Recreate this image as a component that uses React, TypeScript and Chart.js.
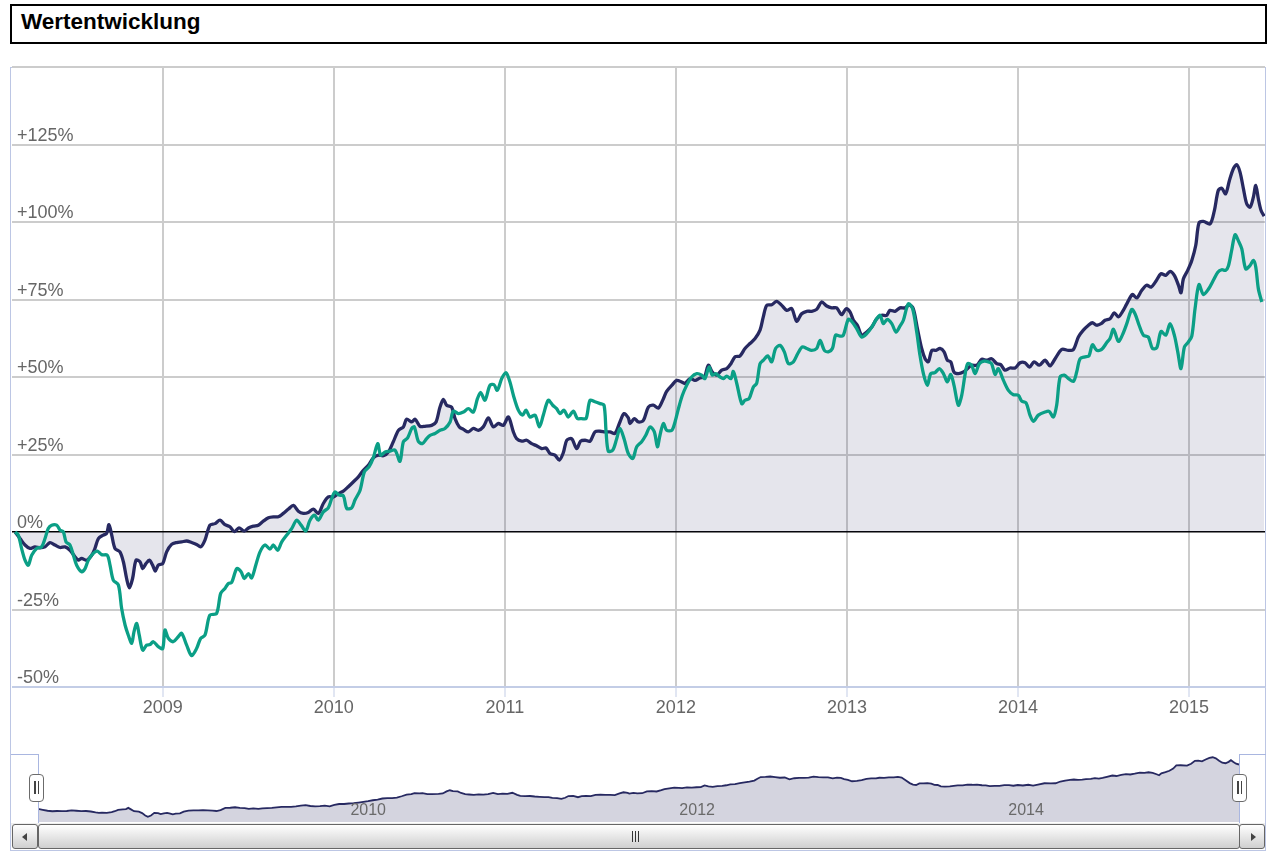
import React, { useEffect, useRef } from 'react';
import { Chart, registerables } from 'chart.js';

Chart.register(...registerables);

// ---- data (x = decimal year, y = performance in %) ----
const fondsSeries: [number, number][] = [
  [2008.137, 0], [2008.166, -2.1], [2008.195, -4.2], [2008.224, -5.3], [2008.253, -4.8], [2008.283, -5.1], [2008.312, -4.8], [2008.341, -3.4], [2008.37, -4.2], [2008.4, -5.0],
  [2008.429, -4.8], [2008.458, -5.9], [2008.487, -8.0], [2008.507, -9.1], [2008.526, -8.5], [2008.555, -9.1], [2008.585, -7.5], [2008.604, -5.3], [2008.624, -2.1], [2008.653, -1.0],
  [2008.672, -0.5], [2008.686, 2.4], [2008.702, -1.0], [2008.721, -5.3], [2008.75, -6.4], [2008.77, -9.6], [2008.789, -15.0], [2008.805, -18.0], [2008.824, -15.0], [2008.844, -9.1],
  [2008.867, -9.6], [2008.883, -11.8], [2008.902, -10.2], [2008.922, -9.1], [2008.941, -10.7], [2008.957, -12.6], [2008.974, -10.7], [2009.0, -10.2], [2009.023, -6.4], [2009.052, -4.0],
  [2009.082, -3.4], [2009.111, -3.2], [2009.14, -2.9], [2009.169, -3.4], [2009.198, -4.0], [2009.222, -4.8], [2009.247, -2.6], [2009.276, 2.2], [2009.306, 2.7], [2009.335, 3.8],
  [2009.364, 2.4], [2009.393, 1.7], [2009.419, 0.1], [2009.446, 1.3], [2009.477, 0.3], [2009.501, 1.3], [2009.53, 1.9], [2009.559, 2.2], [2009.588, 3.5], [2009.618, 4.6],
  [2009.647, 4.9], [2009.676, 4.9], [2009.705, 6.0], [2009.735, 7.4], [2009.764, 8.6], [2009.793, 6.7], [2009.822, 6.0], [2009.851, 6.3], [2009.881, 7.4], [2009.91, 6.0],
  [2009.939, 9.2], [2009.968, 11.3], [2009.998, 11.3], [2010.027, 12.4], [2010.056, 13.2], [2010.085, 14.6], [2010.115, 16.2], [2010.144, 17.8], [2010.173, 19.9], [2010.202, 21.5],
  [2010.231, 23.9], [2010.261, 24.8], [2010.29, 24.6], [2010.319, 25.8], [2010.348, 29.1], [2010.378, 32.8], [2010.407, 33.9], [2010.426, 36.4], [2010.456, 35.5], [2010.475, 36.4],
  [2010.504, 34.1], [2010.533, 34.1], [2010.572, 34.4], [2010.598, 35.5], [2010.621, 40.3], [2010.641, 42.8], [2010.66, 40.9], [2010.689, 40.3], [2010.709, 36.6], [2010.734, 33.9],
  [2010.758, 33.1], [2010.787, 32.3], [2010.816, 33.4], [2010.845, 32.8], [2010.874, 33.9], [2010.904, 36.8], [2010.933, 33.9], [2010.962, 35.0], [2010.991, 34.4], [2011.021, 37.1],
  [2011.05, 32.3], [2011.069, 30.1], [2011.099, 29.3], [2011.128, 29.6], [2011.157, 28.5], [2011.186, 27.8], [2011.216, 26.9], [2011.241, 27.1], [2011.264, 25.3], [2011.293, 24.8],
  [2011.319, 23.2], [2011.342, 25.6], [2011.362, 29.6], [2011.391, 30.1], [2011.42, 26.9], [2011.443, 29.3], [2011.469, 29.6], [2011.498, 29.3], [2011.527, 32.3], [2011.557, 32.5],
  [2011.586, 32.3], [2011.615, 32.3], [2011.644, 31.8], [2011.673, 35.5], [2011.697, 38.2], [2011.722, 36.8], [2011.732, 35.0], [2011.757, 36.6], [2011.781, 35.5], [2011.81, 36.0],
  [2011.839, 40.3], [2011.868, 40.9], [2011.898, 40.0], [2011.927, 43.0], [2011.946, 45.4], [2011.976, 47.3], [2012.005, 48.9], [2012.034, 48.4], [2012.053, 47.9], [2012.083, 49.5],
  [2012.112, 48.9], [2012.141, 49.7], [2012.167, 50.0], [2012.19, 53.8], [2012.213, 51.6], [2012.239, 50.6], [2012.268, 52.2], [2012.297, 52.7], [2012.322, 54.3], [2012.346, 56.5],
  [2012.375, 56.8], [2012.404, 59.2], [2012.433, 60.8], [2012.463, 62.4], [2012.492, 65.1], [2012.511, 69.4], [2012.531, 73.1], [2012.56, 73.3], [2012.589, 74.4], [2012.619, 73.1],
  [2012.648, 71.5], [2012.677, 72.1], [2012.706, 68.0], [2012.735, 70.4], [2012.765, 71.2], [2012.794, 71.2], [2012.823, 71.8], [2012.852, 74.2], [2012.882, 72.9], [2012.911, 72.3],
  [2012.94, 72.3], [2012.969, 70.1], [2012.995, 72.0], [2013.018, 71.0], [2013.038, 68.3], [2013.061, 66.7], [2013.086, 63.5], [2013.116, 64.5], [2013.145, 66.1], [2013.174, 68.8],
  [2013.203, 69.9], [2013.232, 69.9], [2013.252, 71.5], [2013.281, 71.2], [2013.31, 72.3], [2013.34, 72.3], [2013.365, 73.3], [2013.388, 72.0], [2013.412, 65.6], [2013.437, 59.2],
  [2013.457, 55.9], [2013.476, 54.9], [2013.496, 58.6], [2013.521, 58.6], [2013.544, 59.2], [2013.568, 58.1], [2013.587, 55.4], [2013.607, 54.9], [2013.626, 51.6], [2013.651, 51.1],
  [2013.681, 51.6], [2013.704, 52.7], [2013.729, 53.8], [2013.759, 53.8], [2013.788, 55.7], [2013.817, 55.4], [2013.846, 55.9], [2013.876, 54.3], [2013.899, 54.0], [2013.924, 52.2],
  [2013.953, 52.9], [2013.983, 52.9], [2014.012, 54.6], [2014.041, 54.6], [2014.067, 53.2], [2014.094, 54.9], [2014.125, 53.8], [2014.158, 55.4], [2014.187, 53.6], [2014.217, 55.9],
  [2014.256, 58.9], [2014.295, 58.6], [2014.324, 58.9], [2014.353, 62.9], [2014.382, 65.1], [2014.412, 66.7], [2014.435, 67.5], [2014.46, 66.7], [2014.486, 67.2], [2014.509, 68.3],
  [2014.538, 68.8], [2014.563, 70.7], [2014.587, 69.4], [2014.61, 71.0], [2014.636, 73.6], [2014.669, 76.6], [2014.694, 75.5], [2014.723, 77.9], [2014.752, 79.6], [2014.778, 79.0],
  [2014.805, 80.8], [2014.836, 83.3], [2014.864, 82.8], [2014.889, 84.1], [2014.914, 82.8], [2014.938, 79.6], [2014.953, 77.2], [2014.967, 81.7], [2014.992, 84.4], [2015.016, 87.6],
  [2015.039, 92.4], [2015.058, 99.7], [2015.084, 100.2], [2015.123, 99.4], [2015.148, 103.7], [2015.171, 110.2], [2015.191, 110.9], [2015.214, 109.1], [2015.236, 113.4], [2015.259, 117.2],
  [2015.279, 118.5], [2015.298, 116.1], [2015.318, 110.7], [2015.337, 105.9], [2015.357, 104.8], [2015.376, 108.0], [2015.39, 111.8], [2015.405, 107.5], [2015.421, 103.7], [2015.439, 101.9],
];

const vergleichSeries: [number, number][] = [
  [2008.137, 0], [2008.156, -1.0], [2008.175, -5.3], [2008.195, -9.1], [2008.214, -10.7], [2008.234, -7.5], [2008.263, -5.3], [2008.292, -4.8], [2008.312, -2.1], [2008.331, 1.1],
  [2008.351, 2.2], [2008.38, 2.2], [2008.4, 0.6], [2008.419, 0.1], [2008.435, -3.2], [2008.458, -4.2], [2008.478, -7.5], [2008.497, -10.7], [2008.526, -12.8], [2008.546, -11.8],
  [2008.565, -9.1], [2008.594, -6.9], [2008.618, -6.2], [2008.643, -7.3], [2008.676, -7.5], [2008.692, -10.7], [2008.711, -15.5], [2008.741, -17.1], [2008.76, -24.7], [2008.78, -30.0],
  [2008.799, -33.3], [2008.819, -35.9], [2008.832, -32.2], [2008.848, -29.5], [2008.863, -33.3], [2008.883, -38.1], [2008.906, -36.5], [2008.926, -36.3], [2008.945, -35.4], [2008.974, -37.0],
  [2009.0, -37.6], [2009.013, -31.6], [2009.033, -34.3], [2009.062, -35.4], [2009.091, -33.8], [2009.111, -32.7], [2009.14, -36.5], [2009.169, -39.9], [2009.198, -37.6], [2009.222, -34.3],
  [2009.247, -33.3], [2009.276, -26.8], [2009.315, -26.3], [2009.339, -19.8], [2009.364, -18.2], [2009.384, -16.6], [2009.403, -16.3], [2009.433, -11.8], [2009.458, -12.8], [2009.477, -15.0],
  [2009.501, -13.4], [2009.52, -14.8], [2009.544, -10.7], [2009.569, -6.4], [2009.598, -4.2], [2009.627, -5.5], [2009.647, -4.2], [2009.672, -5.9], [2009.696, -3.2], [2009.725, -1.0],
  [2009.754, 1.1], [2009.783, 3.8], [2009.809, 2.2], [2009.836, 0.3], [2009.861, 3.8], [2009.887, 5.4], [2009.91, 3.8], [2009.939, 6.5], [2009.968, 7.8], [2009.988, 10.8],
  [2010.007, 12.9], [2010.031, 11.9], [2010.056, 11.7], [2010.076, 7.6], [2010.105, 7.8], [2010.124, 10.3], [2010.154, 13.5], [2010.179, 19.4], [2010.206, 21.0], [2010.231, 23.9],
  [2010.257, 28.5], [2010.274, 24.8], [2010.3, 25.8], [2010.329, 26.1], [2010.358, 26.4], [2010.387, 22.8], [2010.407, 29.1], [2010.432, 30.4], [2010.456, 33.4], [2010.471, 33.9],
  [2010.494, 29.3], [2010.518, 28.5], [2010.543, 30.1], [2010.563, 31.2], [2010.592, 31.8], [2010.621, 32.8], [2010.65, 33.4], [2010.68, 35.5], [2010.699, 39.0], [2010.728, 38.2],
  [2010.758, 38.7], [2010.787, 39.8], [2010.816, 38.7], [2010.84, 43.0], [2010.859, 45.0], [2010.884, 42.5], [2010.913, 47.3], [2010.937, 47.5], [2010.956, 45.7], [2010.982, 49.5],
  [2011.007, 51.4], [2011.03, 48.4], [2011.05, 44.1], [2011.079, 39.3], [2011.104, 37.7], [2011.124, 39.3], [2011.147, 37.1], [2011.177, 37.7], [2011.202, 33.9], [2011.225, 37.7],
  [2011.254, 42.5], [2011.28, 40.9], [2011.303, 39.8], [2011.323, 38.2], [2011.346, 39.3], [2011.371, 37.1], [2011.401, 39.0], [2011.424, 36.6], [2011.449, 36.6], [2011.475, 36.6],
  [2011.498, 42.5], [2011.527, 42.0], [2011.557, 41.4], [2011.58, 40.9], [2011.592, 32.3], [2011.605, 26.1], [2011.631, 26.4], [2011.654, 30.1], [2011.673, 33.4], [2011.697, 30.1],
  [2011.722, 25.3], [2011.748, 23.7], [2011.771, 27.5], [2011.8, 29.1], [2011.824, 31.2], [2011.849, 33.9], [2011.874, 32.3], [2011.892, 27.5], [2011.907, 31.2], [2011.927, 35.0],
  [2011.946, 32.8], [2011.976, 32.8], [2011.995, 35.5], [2012.015, 39.8], [2012.038, 44.1], [2012.063, 47.3], [2012.092, 50.0], [2012.122, 51.1], [2012.151, 50.6], [2012.17, 49.5],
  [2012.194, 53.2], [2012.213, 50.6], [2012.233, 51.1], [2012.258, 50.0], [2012.278, 49.5], [2012.297, 50.3], [2012.322, 49.5], [2012.336, 51.8], [2012.356, 47.9], [2012.385, 41.4],
  [2012.404, 42.5], [2012.428, 43.0], [2012.453, 46.8], [2012.472, 47.9], [2012.492, 54.3], [2012.511, 55.4], [2012.537, 56.8], [2012.56, 54.9], [2012.583, 59.2], [2012.609, 60.2],
  [2012.634, 58.1], [2012.658, 54.3], [2012.687, 54.9], [2012.712, 57.5], [2012.739, 59.7], [2012.765, 59.2], [2012.794, 58.6], [2012.823, 59.2], [2012.843, 61.8], [2012.868, 58.6],
  [2012.891, 58.1], [2012.915, 59.2], [2012.934, 63.5], [2012.959, 63.2], [2012.979, 63.5], [2013.008, 68.6], [2013.028, 67.9], [2013.057, 65.6], [2013.086, 62.9], [2013.116, 64.0],
  [2013.145, 66.1], [2013.174, 68.8], [2013.194, 69.9], [2013.213, 67.2], [2013.236, 68.6], [2013.262, 67.2], [2013.287, 64.5], [2013.31, 66.4], [2013.33, 68.3], [2013.359, 73.6],
  [2013.384, 72.0], [2013.408, 64.5], [2013.427, 57.0], [2013.447, 51.1], [2013.47, 47.3], [2013.49, 51.1], [2013.515, 51.4], [2013.54, 52.7], [2013.564, 51.1], [2013.587, 48.4],
  [2013.607, 50.8], [2013.626, 47.3], [2013.651, 40.9], [2013.671, 44.1], [2013.69, 50.6], [2013.706, 54.3], [2013.729, 53.8], [2013.749, 51.1], [2013.774, 54.3], [2013.801, 55.1],
  [2013.827, 54.9], [2013.846, 54.3], [2013.866, 50.8], [2013.885, 52.7], [2013.915, 48.9], [2013.944, 45.7], [2013.973, 44.3], [2014.002, 44.1], [2014.022, 42.2], [2014.047, 41.7],
  [2014.07, 37.7], [2014.09, 35.7], [2014.119, 37.7], [2014.158, 38.7], [2014.182, 38.9], [2014.207, 37.1], [2014.226, 40.9], [2014.246, 50.0], [2014.271, 50.6], [2014.295, 49.5],
  [2014.324, 48.6], [2014.343, 51.6], [2014.363, 55.9], [2014.392, 56.5], [2014.415, 56.8], [2014.435, 60.4], [2014.46, 58.6], [2014.489, 58.9], [2014.519, 61.1], [2014.538, 62.4],
  [2014.558, 65.4], [2014.587, 61.5], [2014.61, 63.5], [2014.636, 67.2], [2014.665, 71.8], [2014.684, 70.4], [2014.708, 66.7], [2014.733, 63.5], [2014.762, 62.9], [2014.786, 59.2],
  [2014.811, 59.4], [2014.836, 64.7], [2014.864, 63.5], [2014.889, 67.2], [2014.914, 63.5], [2014.934, 58.1], [2014.953, 52.7], [2014.973, 59.7], [2014.996, 61.3], [2015.016, 63.2],
  [2015.035, 72.0], [2015.058, 79.8], [2015.084, 76.6], [2015.113, 78.3], [2015.142, 81.2], [2015.168, 83.8], [2015.191, 84.6], [2015.214, 84.4], [2015.23, 85.8], [2015.249, 90.8],
  [2015.269, 95.9], [2015.288, 94.0], [2015.308, 91.4], [2015.331, 84.9], [2015.357, 86.0], [2015.376, 87.6], [2015.39, 85.5], [2015.405, 78.5], [2015.425, 74.2],
];

const yearTicks = [2009, 2010, 2011, 2012, 2013, 2014, 2015];
const navigatorYearTicks = [2010, 2012, 2014];
const percentTicks = [-50, -25, 0, 25, 50, 75, 100, 125, 150];
const titleText = 'Wertentwicklung';

const X_MIN = 2008.119;
const X_MAX = 2015.444;

const NAVY = '#272961';
const TEAL = '#0b9f86';
const FONT = '"Liberation Sans", Arial, Helvetica, sans-serif';
const FRAME = '#bcc6e4';

const toPoints = (s: [number, number][]) => s.map(([x, y]) => ({ x, y }));

const navigatorLabels = {
  id: 'navigatorLabels',
  afterDatasetsDraw(chart: any) {
    const { ctx, scales } = chart;
    const x = scales.x;
    ctx.save();
    ctx.font = `16px ${FONT}`;
    ctx.fillStyle = '#6a6a6a';
    ctx.textAlign = 'left';
    ctx.textBaseline = 'middle';
    navigatorYearTicks.forEach((v) => ctx.fillText(String(v), x.getPixelForValue(v) + 6, 71));
    ctx.restore();
  },
};

export default function App() {
  const mainRef = useRef<HTMLCanvasElement | null>(null);
  const navRef = useRef<HTMLCanvasElement | null>(null);

  useEffect(() => {
    if (!mainRef.current || !navRef.current) return;
    const main = new Chart(mainRef.current, {
      type: 'line',
      data: {
        datasets: [
          {
            label: 'Vergleich',
            data: toPoints(vergleichSeries),
            borderColor: TEAL,
            borderWidth: 3.3,
            pointRadius: 0,
            fill: false,
            tension: 0.3,
            order: 0,
          },
          {
            label: 'Fonds',
            data: toPoints(fondsSeries),
            borderColor: NAVY,
            borderWidth: 3.3,
            pointRadius: 0,
            fill: 'origin',
            backgroundColor: 'rgba(39,41,97,0.12)',
            tension: 0.3,
            order: 1,
          },
        ],
      },
      options: {
        animation: false,
        responsive: false,
        maintainAspectRatio: false,
        events: [],
        layout: { padding: { left: 12, right: 2, top: 67, bottom: 0 } },
        plugins: { legend: { display: false }, tooltip: { enabled: false } },
        scales: {
          x: {
            type: 'linear',
            min: X_MIN,
            max: X_MAX,
            afterBuildTicks: (s: any) => {
              s.ticks = yearTicks.map((v) => ({ value: v }));
            },
            afterFit: (s: any) => {
              s.height = 53;
            },
            grid: { color: '#cccccc', lineWidth: 2, tickLength: 10, tickColor: '#c3cde6', tickWidth: 1 },
            border: { color: '#c3cde6', width: 1 },
            ticks: {
              autoSkip: false,
              maxRotation: 0,
              padding: 0,
              color: '#666',
              font: { size: 18, family: FONT },
              callback: (v: any) => String(v),
            },
          },
          y: {
            type: 'linear',
            min: -50,
            max: 150,
            afterBuildTicks: (s: any) => {
              s.ticks = percentTicks.map((v) => ({ value: v }));
            },
            afterFit: (s: any) => {
              s.width = 0;
            },
            grid: {
              drawTicks: false,
              color: (c: any) => (c.tick && c.tick.value === 0 ? '#000' : c.tick && c.tick.value === -50 ? '#c3cde6' : '#cccccc'),
              lineWidth: (c: any) => (c.tick && c.tick.value === 0 ? 1.5 : 2),
            },
            border: { display: false },
            ticks: {
              mirror: true,
              padding: 5,
              labelOffset: -8.5,
              color: '#666',
              font: { size: 18, family: FONT },
              callback: (v: any) => (v === 150 ? '' : v > 0 ? `+${v}%` : `${v}%`),
            },
          },
        },
      },
    });

    const navData = toPoints(fondsSeries);
    const nav = new Chart(navRef.current, {
      type: 'line',
      data: {
        datasets: [
          {
            data: navData,
            borderColor: NAVY,
            borderWidth: 1.8,
            pointRadius: 0,
            fill: 'start',
            backgroundColor: 'rgba(39,41,97,0.2)',
            tension: 0,
          },
        ],
      },
      options: {
        animation: false,
        responsive: false,
        maintainAspectRatio: false,
        events: [],
        layout: { padding: { left: 38, right: 28, top: 14, bottom: 29 } },
        plugins: { legend: { display: false }, tooltip: { enabled: false } },
        scales: {
          x: { type: 'linear', display: false, min: navData[0].x, max: navData[navData.length - 1].x },
          y: { type: 'linear', display: false, min: -30, max: 126 },
        },
      },
      plugins: [navigatorLabels],
    });

    return () => {
      main.destroy();
      nav.destroy();
    };
  }, []);

  const abs = (s: React.CSSProperties): React.CSSProperties => ({ position: 'absolute', boxSizing: 'border-box', ...s });
  const btnBg = 'linear-gradient(#ffffff, #cfcfcf)';

  return (
    <div style={{ position: 'absolute', left: 0, top: 0, width: 1267, height: 851, background: '#fff', overflow: 'hidden' }}>
      {/* outer frame */}
      <div style={abs({ left: 10, top: 67, width: 1256, height: 784, border: `1px solid ${FRAME}` })} />
      <canvas ref={mainRef} width={1267} height={740} style={{ position: 'absolute', left: 0, top: 0, width: 1267, height: 740 }} />
      <canvas ref={navRef} width={1267} height={111} style={{ position: 'absolute', left: 0, top: 740, width: 1267, height: 111 }} />

      {/* title */}
      <div
        style={abs({
          left: 10,
          top: 4,
          width: 1257,
          height: 40,
          border: '2px solid #000',
          paddingLeft: 9,
          font: `bold 22.5px ${FONT}`,
          lineHeight: '32px',
          color: '#000',
          background: '#fff',
        })}
      >
        {titleText}
      </div>

      {/* navigator outline */}
      <div style={abs({ left: 11, top: 754, width: 28, height: 1, background: '#a9b6e0' })} />
      <div style={abs({ left: 38, top: 754, width: 1, height: 69, background: '#a9b6e0' })} />
      <div style={abs({ left: 1239, top: 754, width: 1, height: 69, background: '#a9b6e0' })} />
      <div style={abs({ left: 1239, top: 754, width: 27, height: 1, background: '#a9b6e0' })} />

      {/* handles */}
      {[29, 1232].map((l) => (
        <div key={l} style={abs({ left: l, top: 774, width: 15, height: 28, border: '1.5px solid #6b6b6b', borderRadius: 4, background: '#fff' })}>
          <div style={abs({ left: 4, top: 6, width: 1.5, height: 13, background: '#444' })} />
          <div style={abs({ left: 7.5, top: 6, width: 1.5, height: 13, background: '#444' })} />
        </div>
      ))}

      {/* scrollbar */}
      <div style={abs({ left: 11, top: 823, width: 1254, height: 26, background: 'linear-gradient(#eeeeee, #ffffff)' })} />
      <div style={abs({ left: 12, top: 824, width: 26, height: 25, border: '1px solid #666', borderRadius: 3, background: btnBg })}>
        <div style={abs({ left: 8.5, top: 7.5, width: 0, height: 0, borderTop: '4px solid transparent', borderBottom: '4px solid transparent', borderRight: '5px solid #444' })} />
      </div>
      <div style={abs({ left: 38, top: 824, width: 1202, height: 25, border: '1px solid #666', borderRadius: 3, background: btnBg })} />
      {[632, 635, 638].map((l) => (
        <div key={l} style={abs({ left: l, top: 831, width: 1.3, height: 11, background: '#333' })} />
      ))}
      <div style={abs({ left: 1239, top: 824, width: 26, height: 25, border: '1px solid #666', borderRadius: 3, background: btnBg })}>
        <div style={abs({ left: 10.5, top: 7.5, width: 0, height: 0, borderTop: '4px solid transparent', borderBottom: '4px solid transparent', borderLeft: '5px solid #444' })} />
      </div>
    </div>
  );
}
